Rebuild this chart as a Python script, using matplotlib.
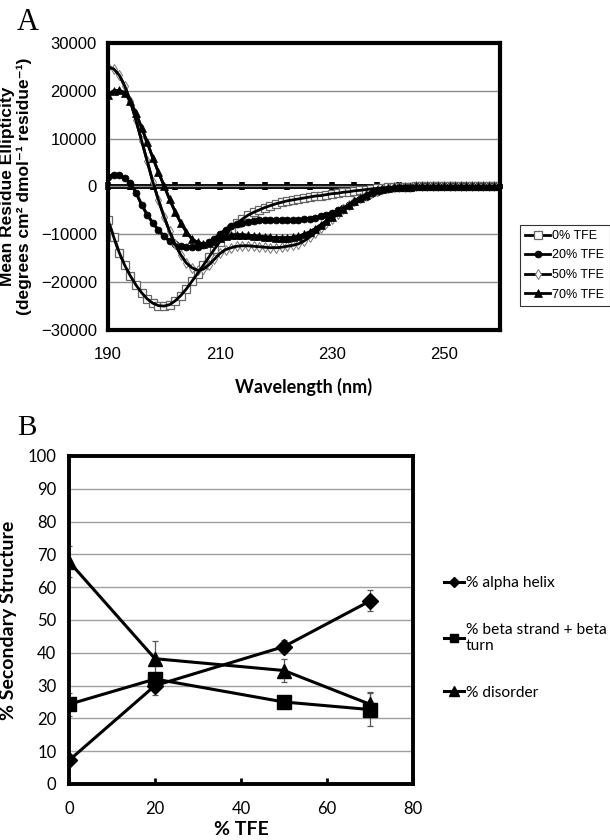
import numpy as np
import matplotlib
matplotlib.use("Agg")
import matplotlib.pyplot as plt

# ---- panel A: CD spectra ----
wavelength = list(range(190, 261))

tfe_0 = [-7000, -10500, -13800, -16500, -18700, -20600, -22200, -23500, -24400, -24900,
         -25000, -24700, -23900, -22800, -21400, -19800, -18200, -16500, -14800, -13100,
         -11500, -10000, -8800, -7700, -6800, -6000, -5400, -4900, -4400, -4000,
         -3600, -3300, -3000, -2800, -2600, -2400, -2200, -2000, -1900, -1700,
         -1500, -1400, -1200, -1100, -900, -800, -650, -500, -400, -300,
         -200, -150, -100, -80, -50, 0, 0, 0, 0, 0,
         0, 0, 0, 0, 0, 0, 0, 0, 0, 0, 0]
tfe_20 = [2000, 2500, 2300, 1700, 700, -1300, -3800, -5900, -7600, -9100,
          -10400, -11400, -12100, -12500, -12700, -12700, -12600, -12300, -11700, -10900,
          -9900, -9000, -8300, -7900, -7600, -7400, -7200, -7100, -7000, -7000,
          -6900, -6900, -6900, -6900, -6900, -6800, -6700, -6500, -6200, -5900,
          -5500, -5000, -4500, -3900, -3300, -2700, -2100, -1600, -1100, -750,
          -450, -300, -180, -100, -50, 0, 0, 0, 0, 0,
          0, 0, 0, 0, 0, 0, 0, 0, 0, 0, 0]
tfe_50 = [25000, 24600, 23300, 21000, 17800, 13800, 9600, 5300, 1000, -2800,
          -6300, -9400, -12100, -14300, -16000, -17000, -17500, -17300, -16400, -15200,
          -14000, -13200, -12800, -12500, -12400, -12400, -12500, -12600, -12700, -12800,
          -12800, -12700, -12500, -12300, -12000, -11400, -10600, -9700, -8700, -7700,
          -6700, -5700, -4800, -3900, -3100, -2400, -1800, -1300, -900, -600,
          -350, -200, -100, -50, -20, 0, 0, 0, 0, 0,
          0, 0, 0, 0, 0, 0, 0, 0, 0, 0, 0]
tfe_70 = [19200, 20000, 20100, 19600, 17800, 15300, 12300, 9200, 6000, 3000,
          200, -2700, -5300, -7600, -9500, -11000, -11700, -12000, -11800, -11300,
          -10800, -10400, -10200, -10100, -10100, -10200, -10300, -10400, -10500, -10600,
          -10700, -10700, -10700, -10600, -10400, -10000, -9500, -8800, -8000, -7200,
          -6300, -5400, -4600, -3800, -3000, -2300, -1700, -1200, -800, -500,
          -300, -150, -100, -50, -20, 0, 0, 0, 0, 0,
          0, 0, 0, 0, 0, 0, 0, 0, 0, 0, 0]

# ---- panel B: secondary structure ----
tfe_pct = [0, 20, 50, 70]
helix = [7.2, 30.0, 41.9, 55.8]
helix_err = [0.5, 3.0, 2.0, 3.2]
beta = [24.3, 32.0, 25.0, 22.7]
beta_err = [3.5, 1.0, 0.8, 5.0]
disorder = [67.8, 38.2, 34.6, 24.3]
disorder_err = [4.8, 5.5, 3.4, 3.7]

arial = ["Liberation Sans", "DejaVu Sans"]
calibri = "Lato"

fig = plt.figure(figsize=(6.1, 8.4), dpi=100)

# ================= panel A =================
ax = fig.add_axes([108/610, 1 - 330/840, 392/610, 287/840])
ax.set_xlim(190, 260)
ax.set_ylim(-30000, 30000)
ax.set_yticks(np.arange(-30000, 30001, 10000))
ax.set_xticks([190, 210, 230, 250])
ax.yaxis.grid(True, color="#8c8c8c", lw=1)
ax.set_axisbelow(True)
ax.tick_params(length=0, labelsize=12)
ax.tick_params(axis="y", pad=8)
ax.tick_params(axis="x", pad=12)
for lab in ax.get_xticklabels() + ax.get_yticklabels():
    lab.set_family(arial)
for sp in ax.spines.values():
    sp.set_linewidth(3)

# axis line crossing at zero with small tick marks
sec = ax.secondary_xaxis(0.5)
sec.set_xticks(np.arange(190, 261, 4))
sec.set_xticklabels([])
sec.tick_params(direction="inout", length=6, width=4, labeltop=False, labelbottom=False)
sec.spines["bottom"].set_linewidth(3.5)
sec.spines["top"].set_linewidth(3.5)

series_a = [
    (tfe_0, "s", 6, "white", "#666666", 0.9, "0% TFE"),
    (tfe_20, "o", 5, "k", "k", 0.5, "20% TFE"),
    (tfe_50, "d", 5, "white", "#777777", 0.7, "50% TFE"),
    (tfe_70, "^", 5.5, "k", "k", 0.5, "70% TFE"),
]
for vals, mk, ms, fc, ec, mew, lab in series_a:
    ax.plot(wavelength, vals, "-" + mk, color="k", lw=2, ms=ms, mfc=fc, mec=ec,
            mew=mew, label=lab, zorder=2)
    # the solid curve sits over the symbols in the original
    ax.plot(wavelength, vals, "-", color="k", lw=2, zorder=3)

ax.set_ylabel("Mean Residue Ellipticity\n(degrees cm² dmol⁻¹ residue⁻¹)",
              fontsize=12.5, fontweight="bold", family=arial, labelpad=6,
              linespacing=1.15)
ax.set_xlabel("Wavelength (nm)", fontsize=13, fontweight="bold", family=calibri,
              labelpad=12)

leg = ax.legend(loc="upper left", bbox_to_anchor=(520/610, 1 - 225/840),
                bbox_transform=fig.transFigure, borderaxespad=0,
                prop={"family": arial, "size": 9},
                frameon=True, fancybox=False, edgecolor="k", handlelength=2.0,
                handletextpad=0.2, borderpad=0.4, labelspacing=0.6)
leg.get_frame().set_linewidth(0.8)

fig.text(17/610, 1 - 22/840, "A", fontsize=22, family="Liberation Serif",
         ha="left", va="center")

# ================= panel B =================
bx = fig.add_axes([69/610, 1 - 784/840, 344/610, 328/840])
bx.set_xlim(0, 80)
bx.set_ylim(0, 100)
bx.set_yticks(np.arange(0, 101, 10))
bx.set_xticks([0, 20, 40, 60, 80])
bx.yaxis.grid(True, color="#a0a0a0", lw=1)
bx.set_axisbelow(True)
bx.tick_params(axis="y", length=0, labelsize=12, pad=9)
bx.tick_params(axis="x", direction="in", length=4, width=2, labelsize=12, pad=12)
for lab in bx.get_xticklabels() + bx.get_yticklabels():
    lab.set_family(calibri)
for sp in bx.spines.values():
    sp.set_linewidth(2.8)

err_kw = dict(ecolor="#555555", elinewidth=0.9, capsize=2.5, capthick=0.9)
bx.errorbar(tfe_pct, helix, yerr=helix_err, fmt="-D", color="k", lw=2.2, ms=8,
            label="% alpha helix", **err_kw)
bx.errorbar(tfe_pct, beta, yerr=beta_err, fmt="-s", color="k", lw=2.2, ms=9.5,
            label="% beta strand + beta\nturn", **err_kw)
bx.errorbar(tfe_pct, disorder, yerr=disorder_err, fmt="-^", color="k", lw=2.2, ms=10,
            label="% disorder", **err_kw)

bx.set_ylabel("% Secondary Structure", fontsize=14, fontweight="bold", family=calibri,
              labelpad=8)
bx.set_xlabel("% TFE", fontsize=14, fontweight="bold", family=calibri, labelpad=3)

handles, labels = bx.get_legend_handles_labels()
handles = [h[0] for h in handles]
lg = bx.legend(handles, labels, loc="upper left", bbox_to_anchor=(444/610, 1 - 576/840),
               bbox_transform=fig.transFigure, frameon=False, borderaxespad=0,
               borderpad=0, prop={"family": calibri, "size": 11.2}, handlelength=1.3,
               handletextpad=0.1, labelspacing=2.1, markerscale=0.65)

fig.text(17/610, 1 - 428/840, "B", fontsize=21, family="Liberation Serif",
         ha="left", va="center")

fig.savefig("out.png", dpi=100)
